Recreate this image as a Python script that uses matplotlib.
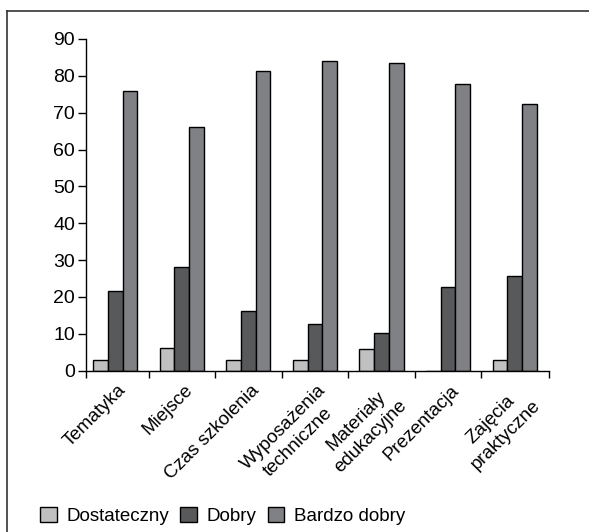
import numpy as np
import matplotlib.pyplot as plt
from matplotlib.lines import Line2D

kategorie = ['Tematyka', 'Miejsce', 'Czas szkolenia', 'Wyposażenia\ntechniczne',
             'Materiały\nedukacyjne', 'Prezentacja', 'Zajęcia\npraktyczne']
dostateczny = [2.8, 6.1, 2.8, 2.8, 5.8, 0, 2.8]
dobry = [21.7, 28.1, 16.1, 12.6, 10.1, 22.7, 25.7]
bardzo_dobry = [76.0, 66.0, 81.2, 84.0, 83.4, 77.7, 72.3]
serie = ['Dostateczny', 'Dobry', 'Bardzo dobry']
kolory = ['#c0c0c0', '#58595b', '#808184']

plt.rcParams['font.family'] = ['Liberation Sans', 'DejaVu Sans']

fig = plt.figure(figsize=(5.89, 5.32), dpi=100)
ax = fig.add_axes([0.146, 0.3032, 0.7866, 0.6235])

x = np.arange(len(kategorie))
w = 0.221
for k, (dane, kolor, nazwa) in enumerate(zip([dostateczny, dobry, bardzo_dobry], kolory, serie)):
    ax.bar(x + (k - 1) * w, dane, width=w, color=kolor, edgecolor='black',
           linewidth=1.0, label=nazwa)

ax.set_ylim(0, 90)
ax.set_xlim(-0.44, 6.52)
ax.set_yticks(range(0, 91, 10))
ax.tick_params(axis='y', labelsize=14, length=6, width=1, direction='out', pad=2)

granice = [-0.44] + [i + 0.5 for i in range(6)] + [6.52]
ax.set_xticks(granice)
ax.set_xticklabels([])
ax.tick_params(axis='x', which='major', length=5, width=1, direction='out')
ax.set_xticks(x + 0.03, minor=True)
ax.set_xticklabels(kategorie, minor=True, rotation=45, ha='right',
                   rotation_mode='anchor', fontsize=13.5, multialignment='center',
                   linespacing=1.3)
ax.tick_params(axis='x', which='minor', length=0, pad=8)

for s in ['top', 'right']:
    ax.spines[s].set_visible(False)
for s in ['left', 'bottom']:
    ax.spines[s].set_linewidth(1.0)

fig.legend(loc='center left', bbox_to_anchor=(0.055, 0.03), ncol=3, frameon=False,
           fontsize=13.5, handlelength=0.9, handleheight=0.9, handletextpad=0.5,
           columnspacing=0.6, borderaxespad=0)

fig.add_artist(Line2D([0.0127, 1.0], [0.9784, 0.9784], color='#333333', linewidth=1.2))
fig.add_artist(Line2D([0.0127, 0.0127], [0.0, 0.9784], color='#333333', linewidth=1.2))

fig.savefig('out.png', dpi=100)
